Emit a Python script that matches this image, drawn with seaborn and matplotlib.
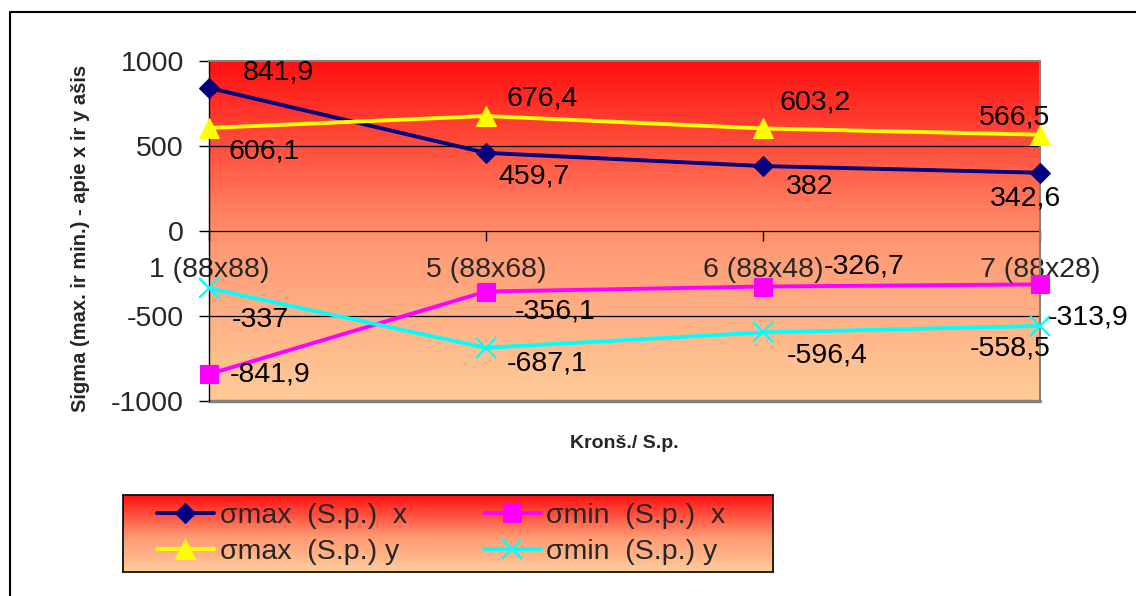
import numpy as np
import pandas as pd
import matplotlib
matplotlib.use("Agg")
import matplotlib.pyplot as plt
from matplotlib.lines import Line2D
from matplotlib.colors import LinearSegmentedColormap
import seaborn as sns

# ---- data ----
categories = ["1 (88x88)", "5 (88x68)", "6 (88x48)", "7 (88x28)"]
sigma_max_x = [841.9, 459.7, 382.0, 342.6]
sigma_min_x = [-841.9, -356.1, -326.7, -313.9]
sigma_max_y = [606.1, 676.4, 603.2, 566.5]
sigma_min_y = [-337.0, -687.1, -596.4, -558.5]
series_names = ["σmax  (S.p.)  x", "σmin  (S.p.)  x", "σmax  (S.p.) y", "σmin  (S.p.) y"]
y_ticks = [-1000, -500, 0, 500, 1000]
x_title = "Kronš./ S.p."
y_title = "Sigma (max. ir min.) - apie x ir y ašis"

sns.set_style("white")
plt.rcParams["font.family"] = ["Liberation Sans", "DejaVu Sans"]

W, H = 1136, 596
fig = plt.figure(figsize=(W / 100, H / 100), dpi=100)

def fx(px):
    return px / W

def fy(py):
    return 1 - py / H

ax = fig.add_axes([fx(209), fy(401), fx(1040) - fx(209), fy(61) - fy(401)])

# gradient background
grad_cmap = LinearSegmentedColormap.from_list(
    "g", [(0.0, "#FFCC99"), (0.45, "#FF9A74"), (1.0, "#FF1010")])
grad = np.linspace(0, 1, 256).reshape(-1, 1)
ax.imshow(grad, cmap=grad_cmap, origin="lower", extent=[0, 1, 0, 1],
          transform=ax.transAxes, aspect="auto", zorder=0)

df = pd.DataFrame({
    "cat": categories,
    "smax_x": sigma_max_x,
    "smin_x": sigma_min_x,
    "smax_y": sigma_max_y,
    "smin_y": sigma_min_y,
})
df["pos"] = np.arange(len(categories))

styles = [
    ("smax_x", series_names[0], "#000080", "D", 10, {}),
    ("smin_x", series_names[1], "#FF00FF", "s", 13, {}),
    ("smax_y", series_names[2], "#FFFF00", "^", 15, {}),
    ("smin_y", series_names[3], "#00FFFF", "x", 15, {"markeredgewidth": 1.6}),
]
for col, name, color, mk, ms, extra in styles:
    sns.lineplot(data=df, x="pos", y=col, ax=ax, color=color, marker=mk,
                 markersize=ms, markeredgecolor=color, markerfacecolor=color,
                 linewidth=2.8, label=name, legend=False, sort=False,
                 zorder=3, clip_on=False, **extra)

# data labels (offsets in pixels relative to point: dx, dy down)
offsets = {
    "smax_x": [(69, -15), (48, 24), (47, 21), (-14, 26)],
    "smax_y": [(55, 24), (56, -18), (52, -26), (-25, -17)],
    "smin_x": [(61, 0), (69, 20), (101, -20), (48, 33)],
    "smin_y": [(51, 32), (61, 16), (64, 23), (-30, 23)],
}
for col, *_ in styles:
    for i, v in enumerate(df[col]):
        dx, dy = offsets[col][i]
        txt = (f"{v:g}").replace(".", ",")
        ax.annotate(txt, xy=(i, v), xytext=(dx * 0.72, -dy * 0.72),
                    textcoords="offset points", ha="center", va="center",
                    fontsize=20.5, color="black", zorder=5, annotation_clip=False)

ax.set_xlim(0, len(categories) - 1)
ax.set_ylim(y_ticks[0], y_ticks[-1])
ax.set_yticks(y_ticks)
ax.set_yticklabels([str(t) for t in y_ticks])
ax.set_xticks(df["pos"])
ax.set_xticklabels(categories)

for t in [-500, 500]:
    ax.axhline(t, color="black", linewidth=0.9, zorder=1)

ax.spines["bottom"].set_position(("data", 0))
ax.spines["bottom"].set_color("black")
ax.spines["bottom"].set_linewidth(0.9)
ax.spines["left"].set_color("black")
ax.spines["left"].set_linewidth(1.0)
for s in ["top", "right"]:
    ax.spines[s].set_color("#808080")
    ax.spines[s].set_linewidth(1.5)
ax.spines["bottom"].set_zorder(1)
# bottom gray border
ax.plot([0, 1], [0, 0], transform=ax.transAxes, color="#808080",
        linewidth=2.5, clip_on=False, zorder=2)

ax.tick_params(axis="y", direction="out", length=7, width=1, color="black",
               pad=11, labelsize=20.5, left=True)
ax.tick_params(axis="x", direction="out", length=7, width=1, color="black",
               pad=12, labelsize=20.5, bottom=True)

ax.set_xlabel(x_title, fontsize=14, fontweight="bold")
ax.xaxis.set_label_coords(0.5, -0.1)
ax.set_ylabel(y_title, fontsize=14.5, fontweight="bold", va="center")
ax.yaxis.set_label_coords((81 - 209) / 831, (401 - 238) / 340)

# legend with gradient background
lax = fig.add_axes([fx(123), fy(572), fx(773) - fx(123), fy(495) - fy(572)])
lax.imshow(grad, cmap=grad_cmap, origin="lower", extent=[0, 1, 0, 1],
           aspect="auto", zorder=0)
lax.set_xlim(0, 1)
lax.set_ylim(0, 1)
lax.set_xticks([])
lax.set_yticks([])
for s in lax.spines.values():
    s.set_color("black")
    s.set_linewidth(1.2)

handles, labels = ax.get_legend_handles_labels()
order = [0, 2, 1, 3]
leg = lax.legend([handles[i] for i in order], [labels[i] for i in order],
                 ncol=2, loc="upper left", bbox_to_anchor=(34 / 650, 0.9),
                 frameon=False, fontsize=20.5, handlelength=2.0,
                 handletextpad=0.2, columnspacing=2.7, labelspacing=0.36,
                 borderpad=0, borderaxespad=0)

# outer chart border (top and left)
fig.add_artist(Line2D([fx(10), fx(10)], [fy(12), 0], color="black", linewidth=1.5))
fig.add_artist(Line2D([fx(10), 1], [fy(12), fy(12)], color="black", linewidth=1.5))

fig.savefig("out.png", dpi=100)
